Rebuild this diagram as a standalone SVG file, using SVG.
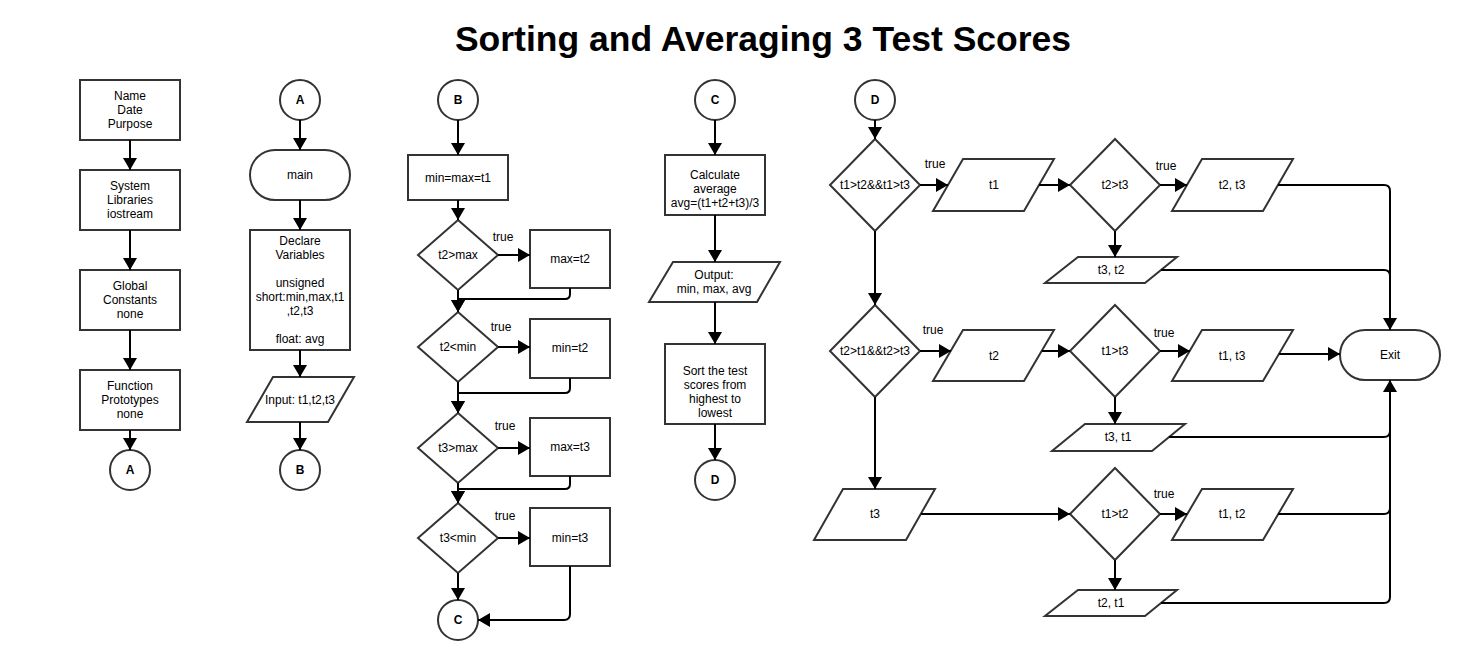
<svg xmlns="http://www.w3.org/2000/svg" width="1460" height="660" viewBox="0 0 1460 660">
<defs>
<marker id="ah" viewBox="0 0 12 14" refX="12" refY="7" markerWidth="12" markerHeight="14" markerUnits="userSpaceOnUse" orient="auto"><path d="M0,0 L12,7 L0,14 Z" fill="#000"/></marker>
<style>
.s{fill:#fff;stroke:#333;stroke-width:2}
.c{fill:none;stroke:#000;stroke-width:2}
.a{fill:none;stroke:#000;stroke-width:2;marker-end:url(#ah)}
text{font-family:"Liberation Sans",Arial,sans-serif;font-size:12px;fill:#000;text-anchor:middle;dominant-baseline:central}
.b{font-weight:bold}
.t{font-size:35.5px;font-weight:bold;dominant-baseline:auto}
</style>
</defs>
<rect width="1460" height="660" fill="#fff"/>
<text class="t" x="763" y="51">Sorting and Averaging 3 Test Scores</text>

<!-- column 1 -->
<g id="n-name"><rect class="s" x="80" y="80" width="100" height="60"/><text x="130" y="96">Name</text><text x="130" y="110">Date</text><text x="130" y="124">Purpose</text></g>
<g id="n-syslib"><rect class="s" x="80" y="170" width="100" height="60"/><text x="130" y="186">System</text><text x="130" y="200">Libraries</text><text x="130" y="214">iostream</text></g>
<g id="n-global"><rect class="s" x="80" y="270" width="100" height="60"/><text x="130" y="286">Global</text><text x="130" y="300">Constants</text><text x="130" y="314">none</text></g>
<g id="n-proto"><rect class="s" x="80" y="370" width="100" height="60"/><text x="130" y="386">Function</text><text x="130" y="400">Prototypes</text><text x="130" y="414">none</text></g>
<g id="n-a1"><circle class="s" cx="130" cy="470" r="20"/><text class="b" x="130" y="470">A</text></g>

<!-- column 2 -->
<g id="n-a2"><circle class="s" cx="300" cy="100" r="20"/><text class="b" x="300" y="100">A</text></g>
<g id="n-main"><rect class="s" x="250" y="150" width="100" height="50" rx="25"/><text x="300" y="175">main</text></g>
<g id="n-declare"><rect class="s" x="250" y="230" width="100" height="120"/><text x="300" y="241">Declare</text><text x="300" y="255">Variables</text><text x="300" y="283">unsigned</text><text x="300" y="297">short:min,max,t1</text><text x="300" y="311">,t2,t3</text><text x="300" y="339">float: avg</text></g>
<g id="n-input"><polygon class="s" points="273,377 354,377 328,422 247,422"/><text x="300" y="400">Input: t1,t2,t3</text></g>
<g id="n-b1"><circle class="s" cx="300" cy="470" r="20"/><text class="b" x="300" y="470">B</text></g>

<!-- column 3 -->
<g id="n-b2"><circle class="s" cx="458" cy="100" r="20"/><text class="b" x="458" y="100">B</text></g>
<g id="n-init"><rect class="s" x="408" y="155" width="100" height="45"/><text x="458" y="178">min=max=t1</text></g>
<g id="n-d1"><polygon class="s" points="458,220 498,255 458,290 418,255"/><text x="458" y="255">t2&gt;max</text></g>
<g id="n-p1"><rect class="s" x="530" y="230" width="80" height="58"/><text x="570" y="259">max=t2</text></g>
<g id="n-d2"><polygon class="s" points="458,312 498,347 458,382 418,347"/><text x="458" y="347">t2&lt;min</text></g>
<g id="n-p2"><rect class="s" x="530" y="319" width="80" height="59"/><text x="570" y="348">min=t2</text></g>
<g id="n-d3"><polygon class="s" points="458,413 498,448 458,483 418,448"/><text x="458" y="448">t3&gt;max</text></g>
<g id="n-p3"><rect class="s" x="530" y="418" width="80" height="58"/><text x="570" y="447">max=t3</text></g>
<g id="n-d4"><polygon class="s" points="458,503 498,538 458,573 418,538"/><text x="458" y="538">t3&lt;min</text></g>
<g id="n-p4"><rect class="s" x="530" y="508" width="80" height="58"/><text x="570" y="538">min=t3</text></g>
<g id="n-c1"><circle class="s" cx="458" cy="620" r="20"/><text class="b" x="458" y="620">C</text></g>

<!-- column 4 -->
<g id="n-c2"><circle class="s" cx="715" cy="100" r="20"/><text class="b" x="715" y="100">C</text></g>
<g id="n-calc"><rect class="s" x="665" y="155" width="100" height="60"/><text x="715" y="175">Calculate</text><text x="715" y="189">average</text><text x="715" y="203">avg=(t1+t2+t3)/3</text></g>
<g id="n-output"><polygon class="s" points="673,262 780,262 757,302 649,302"/><text x="714" y="275">Output:</text><text x="714" y="289">min, max, avg</text></g>
<g id="n-sort"><rect class="s" x="665" y="344" width="100" height="80"/><text x="715" y="371">Sort the test</text><text x="715" y="385">scores from</text><text x="715" y="399">highest to</text><text x="715" y="413">lowest</text></g>
<g id="n-d5"><circle class="s" cx="715" cy="480" r="20"/><text class="b" x="715" y="480">D</text></g>

<!-- column 5 -->
<g id="n-d6"><circle class="s" cx="875" cy="100" r="20"/><text class="b" x="875" y="100">D</text></g>
<g id="n-q1"><polygon class="s" points="875,139 920,185 875,231 830,185"/><text x="875" y="185">t1&gt;t2&amp;&amp;t1&gt;t3</text></g>
<g id="n-o1"><polygon class="s" points="963,159 1054,159 1024,211 933,211"/><text x="994" y="185">t1</text></g>
<g id="n-q2"><polygon class="s" points="1115,139 1160,185 1115,231 1070,185"/><text x="1115" y="185">t2&gt;t3</text></g>
<g id="n-o2"><polygon class="s" points="1202,159 1293,159 1263,211 1172,211"/><text x="1232" y="185">t2, t3</text></g>
<g id="n-o3"><polygon class="s" points="1078,257 1177,257 1145,283 1045,283"/><text x="1111" y="270">t3, t2</text></g>
<g id="n-q3"><polygon class="s" points="875,305 920,351 875,397 830,351"/><text x="875" y="351">t2&gt;t1&amp;&amp;t2&gt;t3</text></g>
<g id="n-o4"><polygon class="s" points="963,330 1054,330 1024,381 933,381"/><text x="994" y="356">t2</text></g>
<g id="n-q4"><polygon class="s" points="1115,305 1160,351 1115,397 1070,351"/><text x="1115" y="351">t1&gt;t3</text></g>
<g id="n-o5"><polygon class="s" points="1202,330 1293,330 1263,381 1172,381"/><text x="1232" y="356">t1, t3</text></g>
<g id="n-o6"><polygon class="s" points="1085,424 1185,424 1152,451 1052,451"/><text x="1118" y="437">t3, t1</text></g>
<g id="n-o7"><polygon class="s" points="843,489 935,489 906,540 814,540"/><text x="875" y="514">t3</text></g>
<g id="n-q5"><polygon class="s" points="1115,468 1160,514 1115,560 1070,514"/><text x="1115" y="514">t1&gt;t2</text></g>
<g id="n-o8"><polygon class="s" points="1202,489 1293,489 1263,540 1172,540"/><text x="1232" y="514">t1, t2</text></g>
<g id="n-o9"><polygon class="s" points="1078,590 1177,590 1145,616 1045,616"/><text x="1111" y="603">t2, t1</text></g>
<g id="n-exit"><rect class="s" x="1340" y="330" width="100" height="50" rx="25"/><text x="1390" y="355">Exit</text></g>

<g id="connectors">
<path class="a" d="M130,140 V170"/>
<path class="a" d="M130,230 V270"/>
<path class="a" d="M130,330 V370"/>
<path class="a" d="M130,430 V450"/>
<path class="a" d="M300,120 V150"/>
<path class="a" d="M300,200 V230"/>
<path class="a" d="M300,350 V377"/>
<path class="a" d="M300,422 V450"/>
<path class="a" d="M458,120 V155"/>
<path class="a" d="M458,200 V220"/>
<path class="a" d="M498,255 H530"/>
<path class="a" d="M458,290 V312"/>
<path class="a" d="M570,288 V294 Q570,299 565,299 H458 V312"/>
<path class="a" d="M498,347 H530"/>
<path class="a" d="M458,382 V413"/>
<path class="a" d="M570,378 V388 Q570,393 565,393 H458 V413"/>
<path class="a" d="M498,448 H530"/>
<path class="a" d="M458,483 V503"/>
<path class="a" d="M570,476 V484 Q570,489 565,489 H458 V503"/>
<path class="a" d="M498,538 H530"/>
<path class="a" d="M458,573 V600"/>
<path class="a" d="M570,566 V614 Q570,620 564,620 H478"/>
<path class="a" d="M715,120 V155"/>
<path class="a" d="M715,215 V262"/>
<path class="a" d="M715,302 V344"/>
<path class="a" d="M715,424 V460"/>
<path class="a" d="M875,120 V139"/>
<path class="a" d="M920,185 H948"/>
<path class="a" d="M1039,185 H1070"/>
<path class="a" d="M1160,185 H1187"/>
<path class="a" d="M1115,231 V257"/>
<path class="a" d="M875,231 V305"/>
<path class="a" d="M920,351 H951"/>
<path class="a" d="M1042,351 H1070"/>
<path class="a" d="M1160,351 H1190"/>
<path class="a" d="M1115,397 V424"/>
<path class="a" d="M875,397 V489"/>
<path class="a" d="M921,514 H1070"/>
<path class="a" d="M1160,514 H1187"/>
<path class="a" d="M1115,560 V590"/>
<path class="a" d="M1278,185 H1384 Q1390,185 1390,191 V330"/>
<path class="c" d="M1161,270 H1384 Q1390,270 1390,276"/>
<path class="a" d="M1279,354 H1340"/>
<path class="a" d="M1161,603 H1384 Q1390,603 1390,597 V380"/>
<path class="c" d="M1169,437 H1384 Q1390,437 1390,431"/>
<path class="c" d="M1278,514 H1384 Q1390,514 1390,508"/>
</g>
<g id="labels">
<text x="503" y="237">true</text>
<text x="501" y="327">true</text>
<text x="505" y="426">true</text>
<text x="505" y="516">true</text>
<text x="935" y="164">true</text>
<text x="933" y="330">true</text>
<text x="1166" y="166">true</text>
<text x="1164" y="333">true</text>
<text x="1164" y="494">true</text>
</g>
</svg>
